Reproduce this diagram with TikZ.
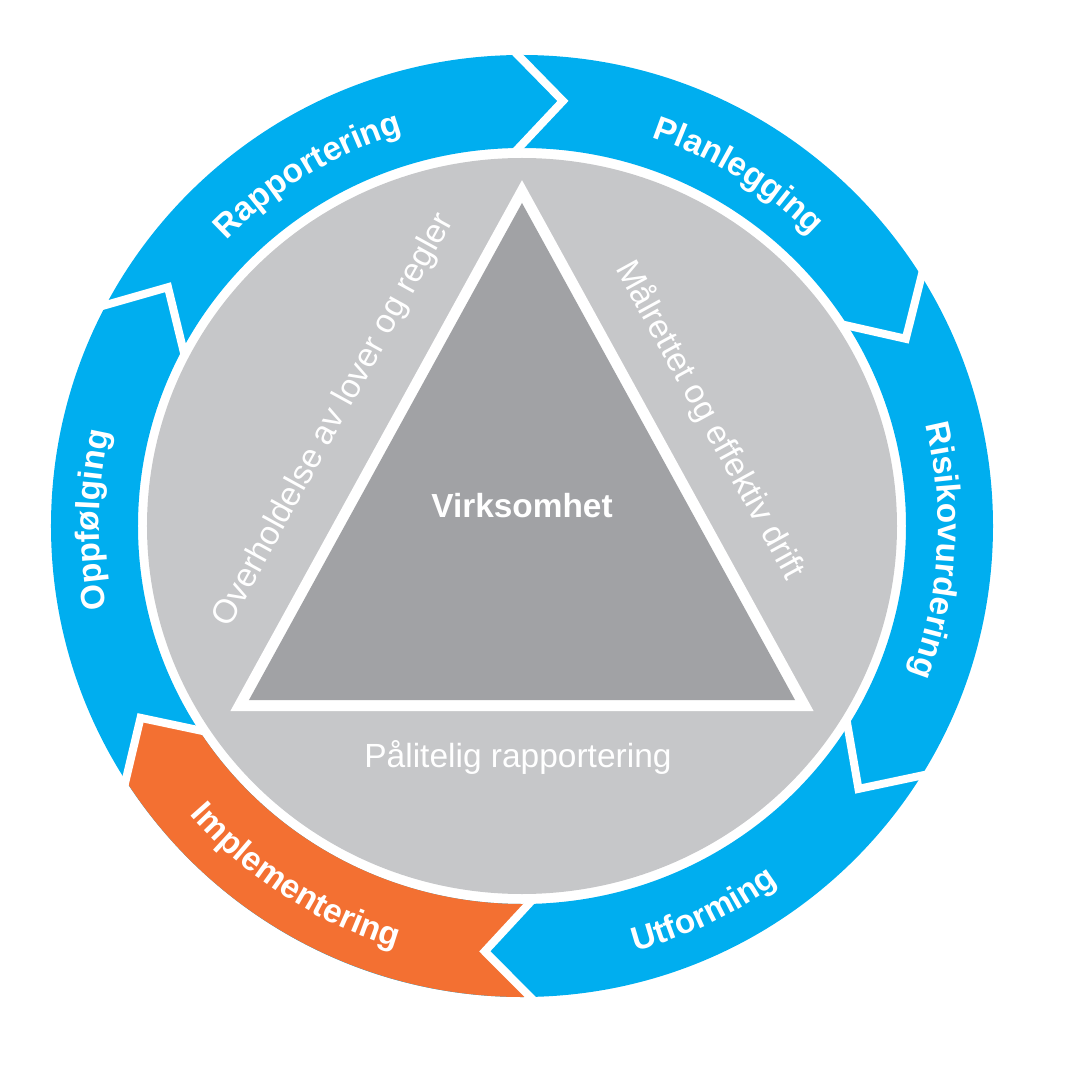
\documentclass[tikz,border=0pt]{standalone}
\usepackage{fontspec}
\setmainfont{Liberation Sans}
\usetikzlibrary{decorations.text,calc}
\definecolor{ringblue}{RGB}{0,174,239}
\definecolor{ringorange}{RGB}{243,112,50}
\definecolor{circgray}{RGB}{198,199,201}
\definecolor{trigray}{RGB}{161,162,165}
\newcommand\ringlbl{\fontsize{33.4}{40}\selectfont\bfseries}
\tikzset{
  chevron/.style={white, line width=8, line join=miter},
  ringtext/.style={decorate, decoration={text along path, text={|\ringlbl|#1}, text align=center, text color=white}},
  innertext/.style={text=white, inner sep=0pt, font=\fontsize{33.5}{40}\selectfont},
}
\begin{document}
\begin{tikzpicture}[x=1pt,y=1pt]
\useasboundingbox (-522,526) rectangle (570,-558);
% ring
\fill[ringblue, even odd rule] (0,0) circle[radius=471] (0,0) ellipse[x radius=384, y radius=378];
\fill[ringorange] (-89:471) arc[start angle=-89, end angle=-147.3, radius=471]
  -- (-153.3:427) -- (-147.3:384 and 378) arc[start angle=-147.3, end angle=-89, x radius=384, y radius=378]
  -- (-95:427) -- cycle;
\foreach \a in {90.5,32,-32,-89,-147.3,152}{
  \coordinate (t) at (\a-6:427);
  \draw[chevron] ($(t)!1.25!(\a:471)$) -- (t) -- ($(t)!1.25!(\a:384 and 378)$);
}
% gray circle
\fill[circgray] (0,0) ellipse[x radius=375, y radius=368];
% triangle
\draw[white, fill=white, line width=22, line join=miter] (0,323) -- (-273,-174) -- (273,-174) -- cycle;
\fill[trigray] (0,323) -- (-273,-174) -- (273,-174) -- cycle;
% inner texts
\node[innertext, font=\fontsize{33.4}{40}\selectfont\bfseries, anchor=base] (virk) at (0,9) {Virksomhet};
\node[innertext, anchor=base] (pal) at (-4,-241) {Pålitelig rapportering};
\node[innertext, rotate=61.2] (over) at (-188,106) {Overholdelse av lover og regler};
\node[innertext, rotate=-61.2] (maal) at (188,106) {Målrettet og effektiv drift};
% ring labels
\path[ringtext=Rapportering] (151.4:411) arc[start angle=151.4, end angle=91.4, radius=411];
\path[ringtext=Planlegging] (88.3:410) arc[start angle=88.3, end angle=28.3, radius=410];
\path[ringtext=Risikovurdering] (36.6:416) arc[start angle=36.6, end angle=-43.4, radius=416];
\path[ringtext=Oppfølging] (209.2:423) arc[start angle=209.2, end angle=149.2, radius=423];
\path[ringtext=Utforming] (-94.7:440) arc[start angle=-94.7, end angle=-34.7, radius=440];
\path[ringtext=Implementering] (-152.8:440) arc[start angle=-152.8, end angle=-92.8, radius=440];
\end{tikzpicture}
\end{document}
